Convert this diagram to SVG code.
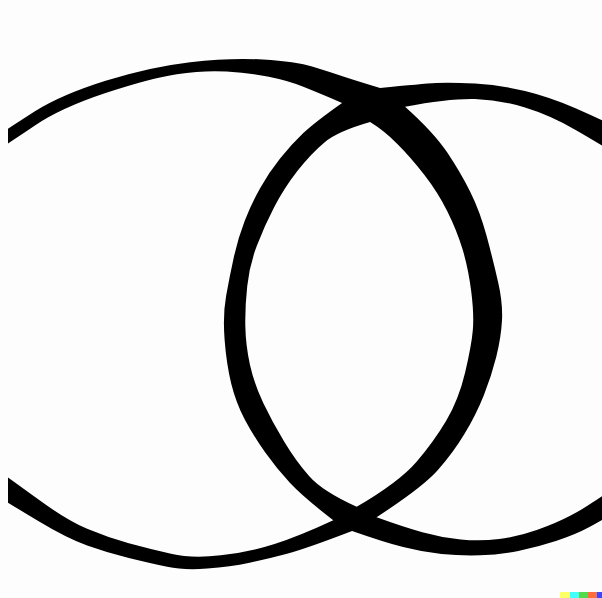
<svg xmlns="http://www.w3.org/2000/svg" width="602" height="598" viewBox="0 0 602 598">
  <style>
    .ring { fill: #000; fill-rule: evenodd; }
  </style>
  <defs>
    <clipPath id="frame"><rect x="8" y="0" width="594" height="598"/></clipPath>
  </defs>
  <rect x="0" y="0" width="602" height="598" fill="#fdfdfd"/>
  <g clip-path="url(#frame)">
    <g transform="scale(0.383929)">
      <g id="left-circle">
        <path class="ring" d="M-10,355 Q23,334 91,290 Q159,247 275,210.5 Q391,174 495.5,162 Q600,150 685,155 Q770,160 815,174 Q860,188 900,201 Q940,214 990,229
        L1055,278 Q1130,345 1165,397.5 Q1200,450 1225,500 Q1250,550 1267.5,615 Q1285,680 1297.5,735 Q1310,790 1307.5,835 Q1305,880 1292.5,930 Q1280,980 1260,1030 Q1240,1080 1210,1130 Q1180,1180 1140,1225 Q1100,1270 981,1347
        L917,1383 Q800,1428 750,1441.5 Q700,1455 650,1465.5 Q600,1476 540,1481 Q480,1486 435.5,1476.5 Q391,1467 335.5,1453.5 Q280,1440 227,1421 Q174,1402 98.5,1356.5 Q23,1311 -10,1290 L-40,1290 L-40,355 Z
        M-10,393 Q23,373 91,327 Q159,281 275,242.5 Q391,204 460.5,193.5 Q530,183 590,186.5 Q650,190 700,200 Q750,210 790,226 Q830,242 891,268
        L964,318 Q1000,340 1035,375 Q1070,410 1105,455 Q1140,500 1165,550 Q1190,600 1205,650 Q1220,700 1227.5,760 Q1235,820 1231.5,860 Q1228,900 1211.5,970 Q1195,1040 1162.5,1095 Q1130,1150 1085,1202.5 Q1040,1255 929,1320
        L868,1355 Q780,1396 715,1417 Q650,1438 575,1446.5 Q500,1455 445.5,1442.5 Q391,1430 335.5,1415 Q280,1400 227,1377.5 Q174,1355 98.5,1300 Q23,1245 -10,1222 Z"/>
      </g>
      <g id="right-circle">
        <path class="ring" d="M990,229 Q1100,218 1136,216 Q1172,214 1237,217.5 Q1302,221 1367.5,237 Q1433,253 1500.5,282.5 Q1568,312 1610,335 L1640,335 L1640,1330 L1610,1330
        Q1568,1355 1534,1373.5 Q1500,1392 1450,1408.5 Q1400,1425 1350,1435 Q1300,1445 1250,1446.5 Q1200,1448 1150,1443 Q1100,1438 1050,1425 Q1000,1412 917,1383
        L868,1355 Q790,1295 755,1257.5 Q720,1220 690,1177.5 Q660,1135 637.5,1092.5 Q615,1050 602.5,1000 Q590,950 585,885 Q580,820 589,770 Q598,720 609,670 Q620,620 637.5,575 Q655,530 677.5,490 Q700,450 730,412.5 Q760,375 790,346.5 Q820,318 891,268 Z
        M1055,278 Q1172,256 1237,258 Q1302,260 1367.5,280 Q1433,300 1500.5,339 Q1568,378 1610,405 L1610,1265
        Q1568,1292 1544,1308.5 Q1520,1325 1485,1343.5 Q1450,1362 1400,1380 Q1350,1398 1300,1404 Q1250,1410 1200,1405 Q1150,1400 1100,1386 Q1050,1372 981,1347
        L929,1320 Q840,1280 805,1240 Q770,1200 740,1150 Q710,1100 686,1050 Q662,1000 651,950 Q640,900 639,850 Q638,800 644,745 Q650,690 669,640 Q688,590 714,540 Q740,490 775,445 Q810,400 845,371 Q880,342 964,318 Z"/>
      </g>
    </g>
  </g>
  <g id="signature">
    <rect x="560" y="592" width="10" height="6" fill="#ffff66"/>
    <rect x="570" y="592" width="9" height="6" fill="#42ffff"/>
    <rect x="579" y="592" width="9" height="6" fill="#51da4c"/>
    <rect x="588" y="592" width="9" height="6" fill="#ff6e3c"/>
    <rect x="597" y="592" width="5" height="6" fill="#3c46ff"/>
  </g>
</svg>
